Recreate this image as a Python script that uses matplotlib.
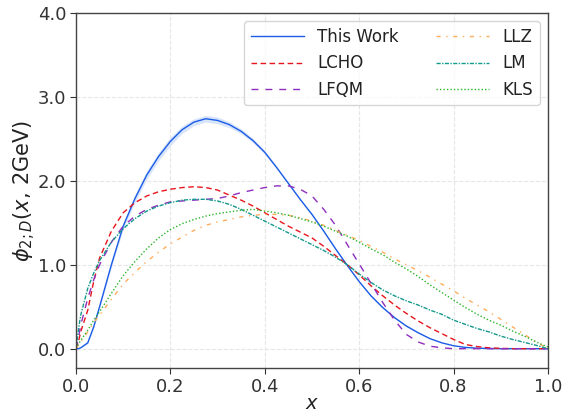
import matplotlib; matplotlib.use("Agg")
import matplotlib.pyplot as plt
import numpy as np

# values, common x grid
x = [0.0, 0.005, 0.01, 0.025, 0.0375, 0.05, 0.075, 0.1, 0.125, 0.15, 0.175, 0.2, 0.225, 0.25, 0.275, 0.3,
     0.325, 0.35, 0.375, 0.4, 0.425, 0.45, 0.475, 0.5, 0.525, 0.55, 0.575, 0.6, 0.625, 0.65,
     0.675, 0.7, 0.725, 0.75, 0.775, 0.8, 0.825, 0.85, 0.875, 0.9, 0.925, 0.95, 0.975, 1.0]

this_work = [0.0, 0.0, 0.01, 0.07, 0.26, 0.50, 1.00, 1.46, 1.79, 2.07, 2.29, 2.47, 2.61, 2.70, 2.74, 2.72,
             2.67, 2.59, 2.48, 2.34, 2.16, 1.97, 1.78, 1.60, 1.40, 1.19, 0.99, 0.80, 0.63, 0.49,
             0.37, 0.27, 0.19, 0.12, 0.07, 0.035, 0.015, 0.006, 0.002, 0.0, 0.0, 0.0, 0.0, 0.0]
this_work_err = [0.0, 0.0, 0.0, 0.01, 0.015, 0.02, 0.03, 0.04, 0.045, 0.05, 0.05, 0.05, 0.045, 0.04, 0.04, 0.04,
                 0.035, 0.03, 0.025, 0.02, 0.015, 0.01, 0.01, 0.01, 0.01, 0.01, 0.01, 0.01, 0.01, 0.01,
                 0.01, 0.01, 0.005, 0.005, 0.0, 0.0, 0.0, 0.0, 0.0, 0.0, 0.0, 0.0, 0.0, 0.0]
lcho = [0.0, 0.08, 0.20, 0.46, 0.80, 1.08, 1.40, 1.62, 1.74, 1.82, 1.87, 1.90, 1.92, 1.93, 1.92, 1.89,
        1.83, 1.77, 1.70, 1.62, 1.54, 1.46, 1.39, 1.32, 1.22, 1.11, 1.00, 0.88, 0.75, 0.63,
        0.52, 0.42, 0.33, 0.25, 0.18, 0.11, 0.05, 0.025, 0.01, 0.004, 0.0, 0.0, 0.0, 0.0]
lfqm = [0.0, 0.12, 0.28, 0.60, 0.82, 1.00, 1.27, 1.46, 1.58, 1.66, 1.71, 1.75, 1.76, 1.77, 1.78, 1.79,
        1.82, 1.86, 1.89, 1.92, 1.94, 1.94, 1.90, 1.82, 1.66, 1.47, 1.24, 1.01, 0.78, 0.55,
        0.34, 0.17, 0.08, 0.03, 0.01, 0.0, 0.0, 0.0, 0.0, 0.0, 0.0, 0.0, 0.0, 0.0]
llz = [0.0, 0.04, 0.08, 0.20, 0.31, 0.40, 0.59, 0.77, 0.91, 1.04, 1.15, 1.25, 1.33, 1.41, 1.47, 1.51,
       1.54, 1.57, 1.59, 1.60, 1.60, 1.59, 1.56, 1.52, 1.47, 1.41, 1.35, 1.29, 1.22, 1.15,
       1.07, 1.00, 0.93, 0.85, 0.77, 0.69, 0.60, 0.52, 0.44, 0.35, 0.26, 0.17, 0.08, 0.0]
lm = [0.0, 0.22, 0.40, 0.72, 0.90, 1.05, 1.27, 1.43, 1.55, 1.64, 1.70, 1.74, 1.77, 1.78, 1.78, 1.76,
      1.72, 1.66, 1.59, 1.52, 1.45, 1.38, 1.31, 1.24, 1.17, 1.09, 1.00, 0.89, 0.79, 0.70,
      0.63, 0.57, 0.52, 0.46, 0.41, 0.34, 0.29, 0.24, 0.20, 0.15, 0.11, 0.075, 0.04, 0.0]
kls = [0.0, 0.05, 0.10, 0.22, 0.34, 0.44, 0.66, 0.87, 1.04, 1.19, 1.32, 1.42, 1.49, 1.54, 1.58, 1.61,
       1.63, 1.65, 1.66, 1.64, 1.62, 1.59, 1.55, 1.51, 1.46, 1.40, 1.34, 1.27, 1.19, 1.12,
       1.03, 0.95, 0.86, 0.76, 0.67, 0.58, 0.49, 0.41, 0.34, 0.28, 0.21, 0.15, 0.08, 0.02]

x = np.array(x)
tw = np.array(this_work)
err = np.array(this_work_err)

fig = plt.figure(figsize=(5.7, 4.13), dpi=100)
ax = fig.add_axes([0.1333, 0.109, 0.828, 0.8595])

ax.fill_between(x, tw - err, tw + err, color="#aac4f5", alpha=0.45, lw=0)
ax.plot(x, tw, color="#1a5ce6", lw=1.0, label="This Work")
ax.plot(x, lcho, color="#e8141c", lw=1.0, ls=(0, (4, 2.5)), label="LCHO")
ax.plot(x, lfqm, color="#8e2dbe", lw=1.0, ls=(0, (5, 5)), label="LFQM")
ax.plot(x, llz, color="#ffad5c", lw=1.0, ls=(0, (3, 4, 1, 4)), label="LLZ")
ax.plot(x, lm, color="#14998c", lw=1.0, ls=(0, (3, 1, 1, 1)), label="LM")
ax.plot(x, kls, color="#2bb52b", lw=1.0, ls=(0, (1, 1.5)), label="KLS")

ax.set_xlim(0, 1)
ax.set_ylim(-0.23, 4.0)
ax.set_xticks(np.arange(0, 1.01, 0.2))
ax.set_yticks(np.arange(0, 4.01, 1.0))
ax.xaxis.set_major_formatter(plt.FormatStrFormatter("%.1f"))
ax.yaxis.set_major_formatter(plt.FormatStrFormatter("%.1f"))
ax.tick_params(labelsize=13, colors="#333333", length=4, width=0.8, pad=3)
ax.grid(True, ls="--", color="#e6e6e6", lw=0.8)
for s in ax.spines.values():
    s.set_color("#444444")
    s.set_linewidth(1.0)

ax.set_xlabel("$x$", fontsize=14, color="#222222", labelpad=-1)
ax.set_ylabel(r"$\phi_{2;D}(x,\,2\mathrm{GeV})$", fontsize=15, color="#222222", labelpad=0)

leg = ax.legend(ncol=2, loc="upper right", fontsize=12, handlelength=3.2,
                columnspacing=2.2, frameon=True, fancybox=True, borderaxespad=0.5)
leg.get_frame().set_edgecolor("#cccccc")
for t in leg.get_texts():
    t.set_color("#222222")

plt.savefig("out.png", dpi=100)
plt.close()
